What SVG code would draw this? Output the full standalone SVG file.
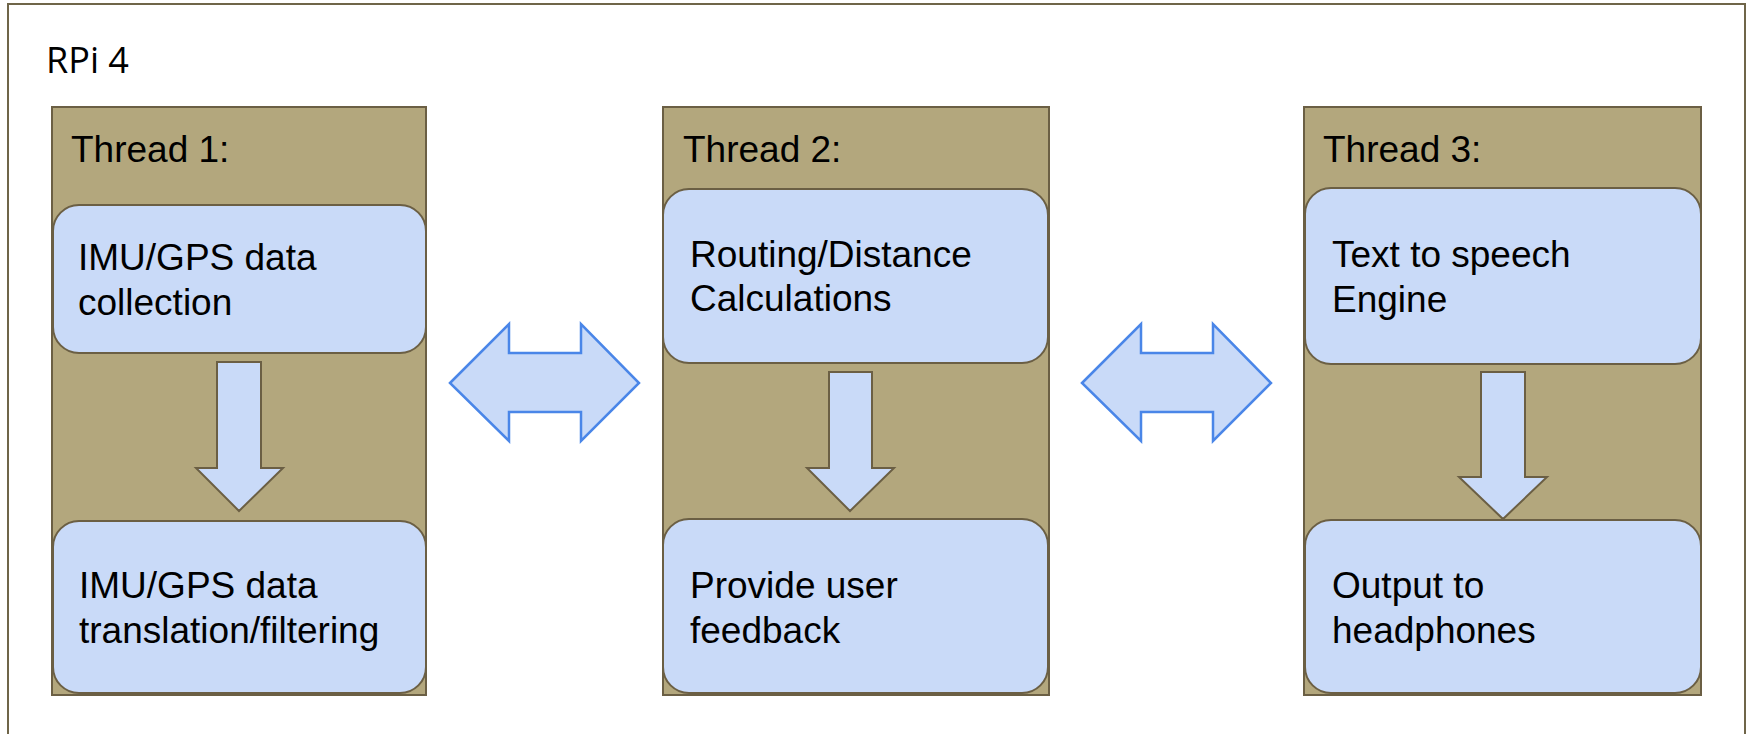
<svg xmlns="http://www.w3.org/2000/svg" width="1753" height="734" viewBox="0 0 1753 734">
<style>
.frame{fill:none;stroke:#6f6549;stroke-width:2}
.thread{fill:#b3a77d;stroke:#6b5f44;stroke-width:2}
.box{fill:#c9daf8;stroke:#6b5f44;stroke-width:2}
.down{fill:#c9daf8;stroke:#6b5f44;stroke-width:2;stroke-linejoin:miter}
.dbl{fill:#c9daf8;stroke:#4a86e8;stroke-width:2.5;stroke-linejoin:miter}
text{font-family:"Liberation Sans",Arial,sans-serif;font-size:37px;fill:#000}
.title{font-family:"Open Sans","Noto Sans",sans-serif;font-size:36px}
</style>
<rect width="1753" height="734" fill="#fff"/>
<path class="frame" d="M8,740 V4 H1745 V740"/>
<text class="title" x="46" y="73">RPi 4</text>

<g id="thread1">
<rect class="thread" x="52" y="107" width="374" height="588"/>
<text x="71" y="162">Thread 1:</text>
</g>
<g id="thread2">
<rect class="thread" x="663" y="107" width="386" height="588"/>
<text x="683" y="162">Thread 2:</text>
</g>
<g id="thread3">
<rect class="thread" x="1304" y="107" width="397" height="588"/>
<text x="1323" y="162">Thread 3:</text>
</g>

<g id="imu-collect">
<rect class="box" x="53" y="205" width="373" height="148" rx="26"/>
<text x="78" y="270">IMU/GPS data</text>
<text x="78" y="315">collection</text>
</g>
<g id="imu-filter">
<rect class="box" x="53" y="521" width="373" height="172" rx="26"/>
<text x="79" y="598">IMU/GPS data</text>
<text x="79" y="643">translation/filtering</text>
</g>
<g id="routing">
<rect class="box" x="663" y="189" width="385" height="174" rx="26"/>
<text x="690" y="267">Routing/Distance</text>
<text x="690" y="311">Calculations</text>
</g>
<g id="feedback">
<rect class="box" x="663" y="519" width="385" height="174" rx="26"/>
<text x="690" y="598">Provide user</text>
<text x="690" y="643">feedback</text>
</g>
<g id="tts">
<rect class="box" x="1305" y="188" width="396" height="176" rx="26"/>
<text x="1332" y="267">Text to speech</text>
<text x="1332" y="312">Engine</text>
</g>
<g id="output">
<rect class="box" x="1305" y="520" width="396" height="173" rx="26"/>
<text x="1332" y="598">Output to</text>
<text x="1332" y="643">headphones</text>
</g>

<g id="connectors">
<polygon class="down" points="217,362 261,362 261,468 283,468 239,511 196,468 217,468"/>
<polygon class="down" points="829,372 872,372 872,468 894,468 850,511 807,468 829,468"/>
<polygon class="down" points="1481,372 1525,372 1525,477 1547,477 1503,519 1459,477 1481,477"/>
<polygon class="dbl" points="450,383 509,324 509,353 581,353 581,324 639,383 581,441 581,412 509,412 509,441"/>
<polygon class="dbl" points="1082,383 1141,324 1141,353 1213,353 1213,324 1271,383 1213,441 1213,412 1141,412 1141,441"/>
</g>
</svg>
